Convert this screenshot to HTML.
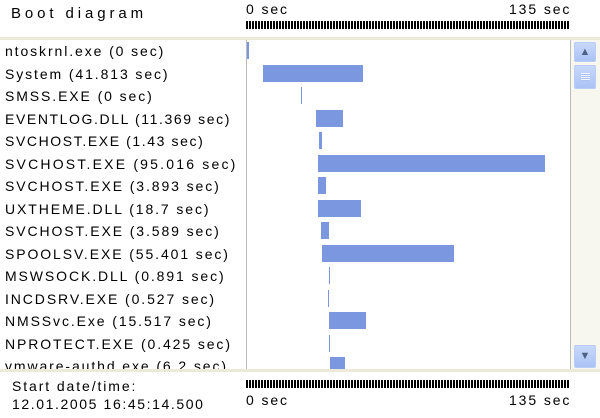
<!DOCTYPE html>
<html><head><style>
*{margin:0;padding:0;box-sizing:border-box}
body{width:600px;height:418px;background:#fff;position:relative;overflow:hidden;font-family:"Liberation Sans",sans-serif;font-size:14px;letter-spacing:1.9px;color:#000}
.a{position:absolute;white-space:nowrap}
.ruler{position:absolute;left:246px;width:323px;height:8px;background:repeating-linear-gradient(90deg,#000 0 2px,#fff 2px 3px)}
.lbl{position:absolute;left:5px;white-space:nowrap;line-height:16px}
.bar{position:absolute;background:#7b97e0;height:17px}
.ln{position:absolute;background:#7b97e0;width:1px;height:17px}
.btn{position:absolute;left:574px;width:22px;background:linear-gradient(#c8d8fb,#aac2f5);border:1px solid #b8ccf6;border-radius:2px}
</style></head><body>
<div class="a" style="left:11px;top:5px;font-size:15px;letter-spacing:3.9px">Boot diagram</div>
<div class="a" style="left:246px;top:1px">0 sec</div>
<div class="a" style="left:509px;top:1px">135 sec</div>
<div class="ruler" style="top:21px"></div>
<div class="a" style="left:0;top:37px;width:600px;height:3px;background:#ece9d8"></div>
<div class="a" style="left:0;top:40px;width:600px;height:329px;overflow:hidden">
<div class="lbl" style="top:3px">ntoskrnl.exe (0 sec)</div>
<div class="lbl" style="top:26px">System (41.813 sec)</div>
<div class="lbl" style="top:48px">SMSS.EXE (0 sec)</div>
<div class="lbl" style="top:71px;letter-spacing:1.6px">EVENTLOG.DLL (11.369 sec)</div>
<div class="lbl" style="top:93px;letter-spacing:1.6px">SVCHOST.EXE (1.43 sec)</div>
<div class="lbl" style="top:116px;letter-spacing:2.2px">SVCHOST.EXE (95.016 sec)</div>
<div class="lbl" style="top:138px">SVCHOST.EXE (3.893 sec)</div>
<div class="lbl" style="top:161px">UXTHEME.DLL (18.7 sec)</div>
<div class="lbl" style="top:183px">SVCHOST.EXE (3.589 sec)</div>
<div class="lbl" style="top:206px">SPOOLSV.EXE (55.401 sec)</div>
<div class="lbl" style="top:228px">MSWSOCK.DLL (0.891 sec)</div>
<div class="lbl" style="top:251px">INCDSRV.EXE (0.527 sec)</div>
<div class="lbl" style="top:273px">NMSSvc.Exe (15.517 sec)</div>
<div class="lbl" style="top:296px">NPROTECT.EXE (0.425 sec)</div>
<div class="lbl" style="top:318px">vmware-authd.exe (6.2 sec)</div>
<div class="a" style="left:246px;top:0;width:1px;height:329px;background:#bbb"></div>
<div class="a" style="left:570px;top:0;width:1px;height:329px;background:#bbb"></div>
<div class="a" style="left:571px;top:0;width:29px;height:329px;background:#f7f6ef"></div>
<div class="bar" style="left:247px;top:2px;width:2px"></div>
<div class="bar" style="left:263px;top:25px;width:100px"></div>
<div class="ln" style="left:301px;top:47px"></div>
<div class="bar" style="left:316px;top:70px;width:27px"></div>
<div class="bar" style="left:319px;top:92px;width:3px"></div>
<div class="bar" style="left:318px;top:115px;width:227px"></div>
<div class="bar" style="left:318px;top:137px;width:8px"></div>
<div class="bar" style="left:318px;top:160px;width:43px"></div>
<div class="bar" style="left:321px;top:182px;width:8px"></div>
<div class="bar" style="left:322px;top:205px;width:132px"></div>
<div class="ln" style="left:329px;top:227px"></div>
<div class="ln" style="left:328px;top:250px"></div>
<div class="bar" style="left:329px;top:272px;width:37px"></div>
<div class="ln" style="left:329px;top:295px"></div>
<div class="bar" style="left:330px;top:317px;width:15px"></div>
</div>
<div class="btn" style="top:42px;height:20px;color:#4d6185;font-size:11px;letter-spacing:0;text-align:center;line-height:18px">&#9650;</div>
<div class="btn" style="top:65px;height:24px"><div class="a" style="left:6px;top:7px;width:9px;height:8px;background:repeating-linear-gradient(#eef3fe 0 1px,#aac2f5 1px 2px)"></div></div>
<div class="btn" style="top:345px;height:23px;color:#4d6185;font-size:11px;letter-spacing:0;text-align:center;line-height:21px">&#9660;</div>
<div class="a" style="left:0;top:369px;width:600px;height:3px;background:#ece9d8"></div>
<div class="ruler" style="top:380px"></div>
<div class="a" style="left:246px;top:392px">0 sec</div>
<div class="a" style="left:509px;top:392px">135 sec</div>
<div class="a" style="left:12px;top:378px">Start date/time:</div>
<div class="a" style="left:12px;top:396px;letter-spacing:1.6px">12.01.2005 16:45:14.500</div>
</body></html>
